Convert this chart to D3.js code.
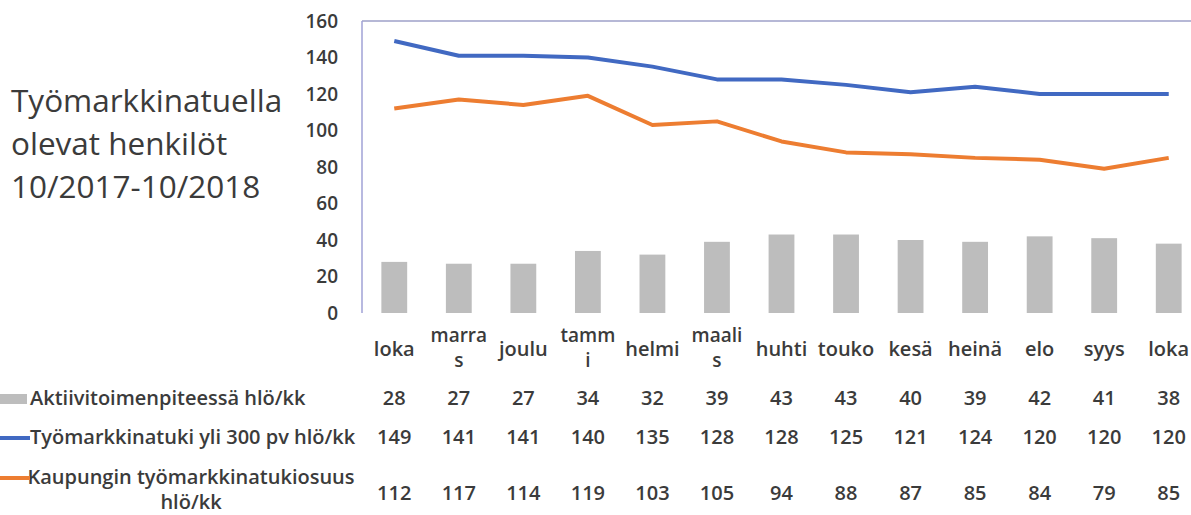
<!DOCTYPE html>
<html>
<head>
<meta charset="utf-8">
<script src="https://cdn.jsdelivr.net/npm/d3@7"></script>
<style>
  body { margin: 0; background: #fff; }
  svg text { font-family: "Open Sans", Lato, sans-serif; fill: #3b3b3b; }
</style>
</head>
<body>
<svg id="chart" width="1191" height="515"></svg>
<script>
// chart data
const categories = ["loka", "marra\ns", "joulu", "tamm\ni", "helmi", "maali\ns", "huhti", "touko", "kesä", "heinä", "elo", "syys", "loka"];
const aktiivi = [28, 27, 27, 34, 32, 39, 43, 43, 40, 39, 42, 41, 38];
const tukiYli300 = [149, 141, 141, 140, 135, 128, 128, 125, 121, 124, 120, 120, 120];
const kaupunki = [112, 117, 114, 119, 103, 105, 94, 88, 87, 85, 84, 79, 85];
const yTicks = [0, 20, 40, 60, 80, 100, 120, 140, 160];
const seriesNames = ["Aktiivitoimenpiteessä hlö/kk", "Työmarkkinatuki yli 300 pv hlö/kk", "Kaupungin työmarkkinatukiosuus\nhlö/kk"];
const titleLines = ["Työmarkkinatuella", "olevat henkilöt", "10/2017-10/2018"];

const svg = d3.select("#chart");
const colors = { bar: "#bdbdbd", blue: "#4169c2", orange: "#ed7d31" };
const tableWeight = 600;
const tableSize = 20;

const x = d3.scaleBand()
    .domain(d3.range(categories.length))
    .range([362, 1201])
    .paddingInner(0.6)
    .paddingOuter(0.3);
const y = d3.scaleLinear().domain([0, 160]).range([313, 21]);
const cx = i => x(i) + x.bandwidth() / 2;

// title
svg.append("g").selectAll("text")
    .data(titleLines)
    .enter().append("text")
    .attr("x", 11)
    .attr("y", (d, i) => 112 + i * 43)
    .attr("font-size", 31.5)
    .text(d => d);

// y axis labels
const yAxis = svg.append("g")
    .attr("transform", "translate(339,0)")
    .call(d3.axisLeft(y).tickValues(yTicks).tickSize(0).tickPadding(1));
yAxis.select(".domain").remove();
yAxis.selectAll("text")
    .attr("font-size", 19)
    .attr("font-weight", tableWeight)
    .attr("fill", "#3b3b3b")
    .style("font-family", "'Open Sans', sans-serif");

// plot borders
svg.append("line")
    .attr("x1", 362).attr("x2", 1191)
    .attr("y1", y(160)).attr("y2", y(160))
    .attr("stroke", "#9ea0c8").attr("stroke-width", 1.5);
svg.append("line")
    .attr("x1", 362).attr("x2", 362)
    .attr("y1", y(160)).attr("y2", y(0))
    .attr("stroke", "#a0a2d6").attr("stroke-width", 1.5);

// bars
svg.append("g").selectAll("rect")
    .data(aktiivi)
    .enter().append("rect")
    .attr("x", (d, i) => x(i))
    .attr("y", d => y(d))
    .attr("width", x.bandwidth())
    .attr("height", d => y(0) - y(d))
    .attr("fill", colors.bar);

// lines
const line = d3.line().x((d, i) => cx(i)).y(d => y(d));
svg.append("path")
    .datum(tukiYli300)
    .attr("d", line)
    .attr("fill", "none")
    .attr("stroke", colors.blue)
    .attr("stroke-width", 4)
    .attr("stroke-linejoin", "round");
svg.append("path")
    .datum(kaupunki)
    .attr("d", line)
    .attr("fill", "none")
    .attr("stroke", colors.orange)
    .attr("stroke-width", 4)
    .attr("stroke-linejoin", "round");

// data table: category row (wrapped labels as in the source)
svg.append("g").selectAll("text")
    .data(categories.flatMap((d, i) => {
        const parts = d.split("\n");
        return parts.map((p, k) => ({ i, text: p, y: parts.length > 1 ? 342 + k * 25 : 356 }));
    }))
    .enter().append("text")
    .attr("x", d => cx(d.i))
    .attr("y", d => d.y)
    .attr("text-anchor", "middle")
    .attr("font-weight", tableWeight)
    .attr("font-size", d => categories[d.i].includes("\n") ? 19 : tableSize)
    .text(d => d.text);

// data table: series rows
const rows = [
    { values: aktiivi, y: 405, key: "bar", color: colors.bar },
    { values: tukiYli300, y: 444, key: "line", color: colors.blue },
    { values: kaupunki, y: 500, key: "line", color: colors.orange }
];

rows.forEach((r, ri) => {
    const g = svg.append("g");
    g.selectAll("text")
        .data(r.values)
        .enter().append("text")
        .attr("x", (d, i) => cx(i))
        .attr("y", r.y)
        .attr("text-anchor", "middle")
        .attr("font-weight", tableWeight)
        .attr("font-size", tableSize)
        .text(d => d);

    const name = seriesNames[ri].split("\n");
    if (name.length > 1) {
        name.forEach((p, k) => {
            g.append("text")
                .attr("x", 191)
                .attr("y", 484 + k * 25)
                .attr("text-anchor", "middle")
                .attr("font-weight", tableWeight)
                .attr("font-size", tableSize)
                .text(p);
        });
    } else {
        g.append("text")
            .attr("x", 30)
            .attr("y", r.y)
            .attr("font-weight", tableWeight)
            .attr("font-size", tableSize)
            .text(name[0]);
    }

    const ky = name.length > 1 ? 478 : r.y - 6;
    if (r.key === "bar") {
        g.append("rect")
            .attr("x", 0).attr("y", ky - 5)
            .attr("width", 27).attr("height", 10)
            .attr("fill", r.color);
    } else {
        g.append("line")
            .attr("x1", 0).attr("x2", 30)
            .attr("y1", ky).attr("y2", ky)
            .attr("stroke", r.color)
            .attr("stroke-width", 4);
    }
});
</script>
</body>
</html>
